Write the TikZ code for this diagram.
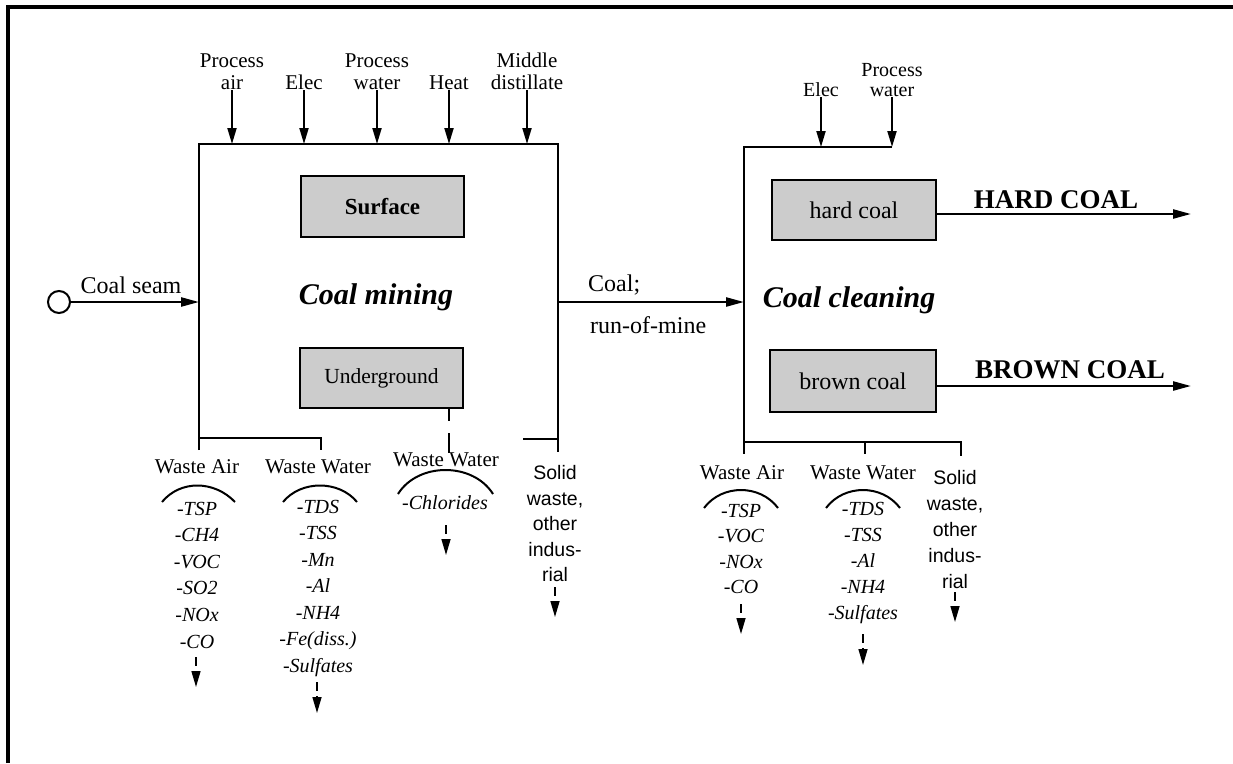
\documentclass[tikz,border=0pt]{standalone}
\usepackage{fontspec}
\setmainfont{Liberation Serif}
\newfontfamily\sansf{Liberation Sans}
\usetikzlibrary{arrows.meta}
\newcommand{\fsz}[2]{\fontsize{#1}{#2}\selectfont}
\begin{document}
\begin{tikzpicture}[x=1pt,y=-1pt,
 frame/.style={line width=3.5pt},
 boxline/.style={line width=2.6pt},
 tickl/.style={line width=1.8pt},
 sub/.style={draw, line width=2.6pt, fill=black!20, inner sep=0pt},
 inarr/.style={line width=2pt, -{Triangle[length=16pt,width=9pt]}},
 mainarr/.style={line width=2.4pt, -{Triangle[length=18pt,width=9pt]}},
 outarr/.style={line width=1.5pt, dash pattern=on 9pt off 5pt on 40pt, -{Triangle[length=16pt,width=9pt]}},
 lbl/.style={font=\fsz{21}{22}, align=center, inner sep=0.5pt},
 items/.style={font=\fsz{20}{26.5}\itshape, align=center, inner sep=0pt},
 sol/.style={font=\sansf\fsz{19.5}{25.5}, align=center, inner sep=0pt},
 arcl/.style={line width=2pt},
 ttl/.style={font=\fsz{30}{30}\bfseries\itshape, inner sep=0pt},
 prod/.style={font=\fsz{27}{27}\bfseries, inner sep=0pt},
]
\useasboundingbox (0,0) rectangle (1233,763);
\draw[frame] (8,763) -- (8,7) -- (1233,7);

% ---------- Coal mining ----------
\node[inner sep=0pt, outer sep=0pt, minimum width=359pt, minimum height=294pt] (mine) at (378.5,291) {};
\draw[boxline] (mine.south west) ++(0,12) -- (mine.north west) -- (mine.north east) -- ++(0,308);
\draw[boxline] (mine.south west) -- ++(122,0) -- ++(0,12);
\draw[boxline] (mine.south east) ++(-35,1) -- ++(35,0);

\node[sub, minimum width=163pt, minimum height=61pt, font=\fsz{23}{23}\bfseries] (surf) at (382.5,206.5) {Surface};
\node[sub, minimum width=163pt, minimum height=60pt, font=\fsz{21.5}{22}] (under) at (381.5,378) {Underground};
\node[ttl] (cm) at (376,297) {Coal mining};

% inputs
\node[lbl, anchor=south] (pa) at (232,90) {Process\\air};
\node[lbl, anchor=south] (el1) at (304,90) {Elec};
\node[lbl, anchor=south] (pw1) at (377,90) {Process\\water};
\node[lbl, anchor=south] (ht) at (449,90) {Heat};
\node[lbl, anchor=south] (md) at (527,90) {Middle\\distillate};
\foreach \n in {pa,el1,pw1,ht,md}{
  \draw[inarr] (\n.south) -- (\n.south |- mine.north);
}

% coal seam
\node[draw, circle, line width=2pt, minimum size=22pt, inner sep=0pt] (seam) at (59,302) {};
\node[font=\fsz{24}{24}, inner sep=0pt] (seamlbl) at (131,285) {Coal seam};
\draw[mainarr] (seam.east) -- (seam.east -| mine.west);

% ---------- Coal cleaning ----------
\node[inner sep=0pt, outer sep=0pt, minimum width=217pt, minimum height=295pt] (clean) at (852.5,294.5) {};
\draw[boxline] (clean.north west) ++(148,0) -- (clean.north west) -- ++(0,307);
\draw[boxline] (clean.south west) -- (clean.south east) -- ++(0,14);
\draw[tickl] (clean.south west) ++(121,0) -- ++(0,12);

\node[lbl, anchor=south, font=\fsz{20}{20}] (el2) at (821,97) {Elec};
\node[lbl, anchor=south, font=\fsz{20}{20}] (pw2) at (892,97) {Process\\water};
\foreach \n in {el2,pw2}{
  \draw[inarr] (\n.south) -- (\n.south |- clean.north);
}

\node[sub, minimum width=164pt, minimum height=60pt, font=\fsz{24}{24}] (hard) at (854,210) {hard coal};
\node[sub, minimum width=166pt, minimum height=62pt, font=\fsz{24}{24}] (brown) at (853,381) {brown coal};
\node[ttl] (cc) at (849,300) {Coal cleaning};

% run-of-mine transfer
\draw[mainarr] (mine.east |- seam) -- (clean.west |- seam);
\node[font=\fsz{24}{24}, inner sep=0pt, anchor=west] (coal) at (588,285) {Coal;};
\node[font=\fsz{24}{24}, inner sep=0pt, anchor=west] (rom) at (590,325) {run-of-mine};

% products
\coordinate (hend) at (1191,214);
\coordinate (bend) at (1191,386);
\node[prod] (hc) at (1056,200) {HARD COAL};
\node[prod] (bc) at (1070,370) {BROWN COAL};
\draw[mainarr] (hard.east |- hend) -- (hend);
\draw[mainarr] (brown.east |- bend) -- (bend);

% ---------- mining emissions ----------
\node[lbl] (wa1) at (197,467) {Waste Air};
\node[lbl] (ww1) at (318,467) {Waste Water};
\node[lbl] (ww2) at (446,460) {Waste Water};
\node[sol] (sw1) at (555,524) {Solid\\waste,\\other\\indus-\\rial};
\draw[tickl] (under.south east) ++(-15,0) -- ++(0,12);
\draw[tickl] (under.south east) ++(-15,24) -- ++(0,20);

\draw[arcl] (162,502) .. controls (180,480) and (214,480) .. (235,502);
\draw[arcl] (283,502) .. controls (301,480) and (339,480) .. (357,502);
\draw[arcl] (398,494) .. controls (418,462) and (473,462) .. (493,494);

\node[items, font=\fsz{20}{26.6}\itshape] (wa1i) at (197,575) {-TSP\\-CH4\\-VOC\\-SO2\\-NOx\\-CO};
\node[items] (ww1i) at (318,588) {-TDS\\-TSS\\-Mn\\-Al\\-NH4\\-Fe(diss.)\\-Sulfates};
\node[items] (cl) at (445,503) {-Chlorides};

\draw[outarr] (196,657) -- (196,687);
\draw[outarr] (317,682) -- (317,713);
\draw[outarr] (446,525) -- (446,555);
\draw[outarr] (555,587) -- (555,617);

% ---------- cleaning emissions ----------
\node[lbl] (wa2) at (742,473) {Waste Air};
\node[lbl] (ww3) at (863,473) {Waste Water};
\node[sol, font=\sansf\fsz{19.5}{26}] (sw2) at (955,530) {Solid\\waste,\\other\\indus-\\rial};

\draw[arcl] (704,508) .. controls (722,484) and (760,484) .. (778,508);
\draw[arcl] (826,508) .. controls (844,484) and (882,484) .. (900,508);

\node[items, font=\fsz{20}{25.3}\itshape] (wa2i) at (741,549) {-TSP\\-VOC\\-NOx\\-CO};
\node[items, font=\fsz{20}{26}\itshape] (ww3i) at (863,563) {-TDS\\-TSS\\-Al\\-NH4\\-Sulfates};

\draw[outarr] (741,604) -- (741,634);
\draw[outarr] (863,634) -- (863,665);
\draw[outarr] (955,592) -- (955,622);
\end{tikzpicture}
\end{document}
